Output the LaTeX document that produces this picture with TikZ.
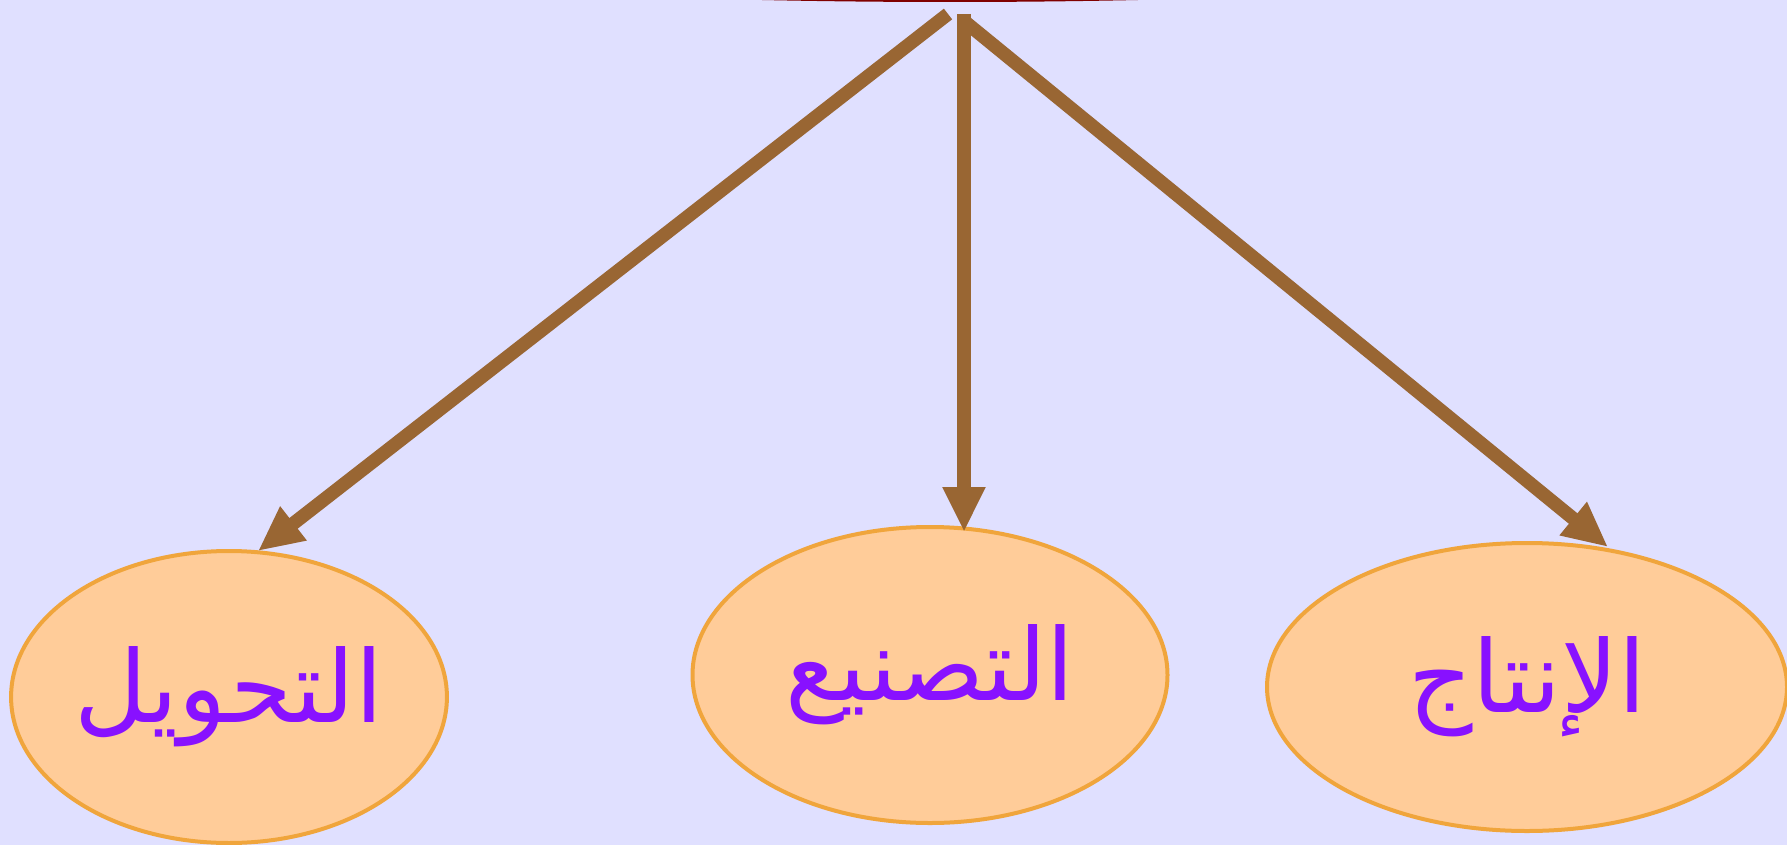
\documentclass[tikz,border=0pt]{standalone}
\usepackage{fontspec}
\newfontfamily\arabicfont[Script=Arabic]{DejaVu Sans}
\TeXXeTstate=1
\usetikzlibrary{shapes.geometric,arrows.meta}
\definecolor{bgc}{RGB}{224,224,255}
\definecolor{peach}{RGB}{255,204,153}
\definecolor{orangeb}{RGB}{240,165,60}
\definecolor{purp}{RGB}{136,17,255}
\definecolor{brownA}{RGB}{153,102,51}
\definecolor{darkred}{RGB}{128,0,0}
\begin{document}
\begin{tikzpicture}[x=1pt,y=-1pt,
  leaf/.style={ellipse, draw=orangeb, fill=peach, line width=4pt, inner sep=0pt,
    text=purp, font=\arabicfont\fontsize{100}{120}\selectfont},
  link/.style={draw=brownA, line width=13.5pt, -{Triangle[width=40pt,length=45pt]}}]
\fill[bgc] (0,0) rectangle (1787,845);
\useasboundingbox (0,0) rectangle (1787,845);
\begin{scope}
\clip (0,0) rectangle (1787,845);
\node[ellipse, fill=darkred, minimum width=1880pt, minimum height=200pt, inner sep=0pt] (root) at (950,-98) {};
\node[leaf, minimum width=433pt, minimum height=292pt] (a) at (229,697) {\beginR التحويل\endR};
\node[leaf, minimum width=475pt, minimum height=296pt] (b) at (930,675) {\beginR التصنيع\endR};
\node[leaf, minimum width=520pt, minimum height=288pt] (c) at (1527,687) {\beginR الإنتاج\endR};
\coordinate (s1) at (948,14);
\coordinate (s2) at (964,14);
\coordinate (s3) at (964,21);
\coordinate (ta) at (258,551);
\coordinate (tb) at (964,532);
\coordinate (tc) at (1608,547);
\draw[link] (s1) -- (ta);
\draw[link] (s2) -- (tb);
\draw[link] (s3) -- (tc);
\end{scope}
\end{tikzpicture}
\end{document}
